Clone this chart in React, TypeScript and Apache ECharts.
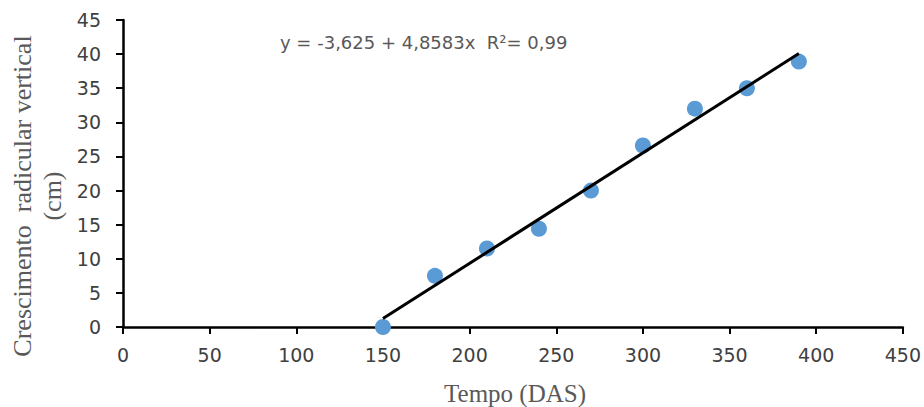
import React, { useEffect, useRef } from "react";
import * as echarts from "echarts";

const daysX = [150, 180, 210, 240, 270, 300, 330, 360, 390];
const growthY = [0, 7.5, 11.5, 14.4, 20, 26.6, 32, 35, 38.9];
const trendX = [150, 390];
const trendY = [1.23, 40.1];
const xTicks = [0, 50, 100, 150, 200, 250, 300, 350, 400, 450];
const yTicks = [0, 5, 10, 15, 20, 25, 30, 35, 40, 45];
const equationText = "y = -3,625 + 4,8583x  R²= 0,99";
const xTitle = "Tempo (DAS)";
const yTitle = "Crescimento  radicular vertical\n(cm)";

export default function App() {
  const ref = useRef<HTMLDivElement>(null);
  useEffect(() => {
    if (!ref.current) return;
    const chart = echarts.init(ref.current, null, { renderer: "svg" });
    const labelStyle = { color: "#404040", fontFamily: "DejaVu Sans", fontSize: 19 };
    chart.setOption({
      animation: false,
      grid: { left: 123, right: 20, top: 20, bottom: 80 },
      xAxis: {
        type: "value",
        min: xTicks[0],
        max: xTicks[xTicks.length - 1],
        interval: 50,
        axisLine: { show: true, lineStyle: { color: "#000", width: 2.5 } },
        axisTick: { show: true, length: 7, lineStyle: { color: "#000", width: 2 } },
        axisLabel: { ...labelStyle, margin: 18 },
        splitLine: { show: false },
      },
      yAxis: {
        type: "value",
        min: yTicks[0],
        max: yTicks[yTicks.length - 1],
        interval: 5,
        axisLine: { show: true, lineStyle: { color: "#000", width: 2.5 } },
        axisTick: { show: true, length: 7, lineStyle: { color: "#000", width: 2 } },
        axisLabel: { ...labelStyle, margin: 22 },
        splitLine: { show: false },
      },
      series: [
        {
          type: "line",
          data: trendX.map((x, i) => [x, trendY[i]]),
          symbol: "none",
          lineStyle: { color: "#000", width: 3 },
          z: 3,
        },
        {
          type: "scatter",
          data: daysX.map((x, i) => [x, growthY[i]]),
          symbolSize: 16,
          itemStyle: { color: "#5B9BD5", opacity: 1 },
          z: 2,
        },
      ],
      graphic: [
        {
          type: "text",
          x: 280,
          y: 42,
          style: {
            text: equationText,
            fill: "#595959",
            font: "18px 'DejaVu Sans'",
            textAlign: "left",
            textVerticalAlign: "middle",
          },
        },
        {
          type: "text",
          x: 515,
          y: 393,
          style: {
            text: xTitle,
            fill: "#595959",
            font: "25px 'Liberation Serif'",
            textAlign: "center",
            textVerticalAlign: "middle",
          },
        },
        {
          type: "text",
          x: 37,
          y: 196,
          rotation: Math.PI / 2,
          style: {
            text: yTitle,
            fill: "#595959",
            font: "26px 'Liberation Serif'",
            textAlign: "center",
            textVerticalAlign: "middle",
            lineHeight: 30,
          },
        },
      ],
    });
    return () => chart.dispose();
  }, []);
  return (
    <div
      ref={ref}
      style={{ position: "fixed", left: 0, top: 0, width: 924, height: 407, background: "#fff" }}
    />
  );
}
